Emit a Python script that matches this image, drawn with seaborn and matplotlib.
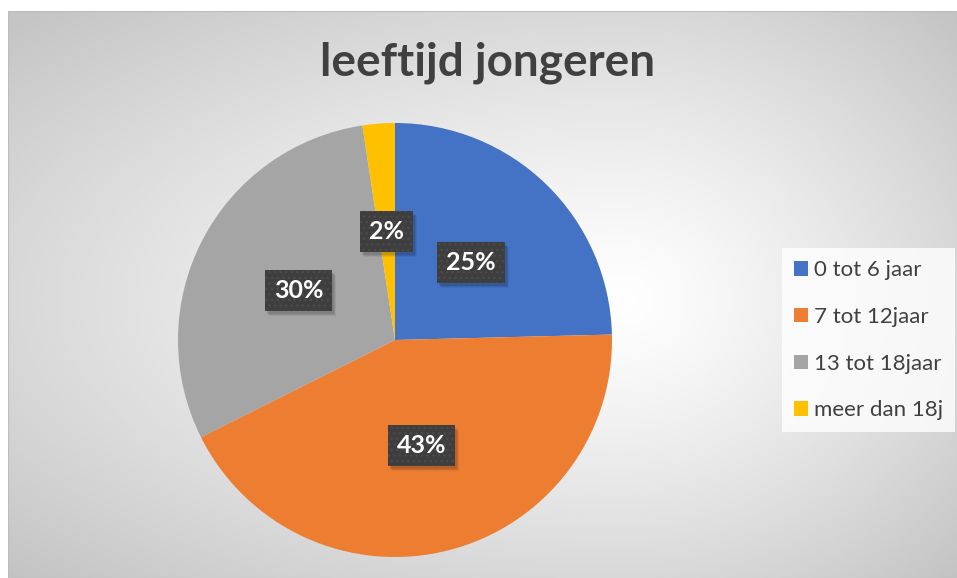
import numpy as np
import matplotlib
matplotlib.use("Agg")
import matplotlib.pyplot as plt
import matplotlib.transforms as mtransforms
from matplotlib.patches import Patch, Rectangle
import seaborn as sns

# ---- data ----
categories = ["0 tot 6 jaar", "7 tot 12jaar", "13 tot 18jaar", "meer dan 18j"]
values = [24.6, 43.0, 30.0, 2.4]
title = "leeftijd jongeren"

sns.set_theme(style="white")
plt.rcParams["font.family"] = ["Lato", "DejaVu Sans"]
colors = sns.color_palette(["#4472C4", "#ED7D31", "#A5A5A5", "#FFC000"])

W, H = 957, 578
fig = plt.figure(figsize=(W / 100, H / 100), dpi=100)
fig.patch.set_facecolor("white")

# ---- gradient chart-area background ----
x0, y0top = 8, 11
bg = fig.add_axes([x0 / W, 0, (W - x0) / W, (H - y0top) / H], zorder=0)
gw, gh = W - x0, H - y0top
xx, yy = np.meshgrid(np.arange(gw), np.arange(gh))
cx, cy = 620 - x0, 300 - y0top
dx = np.where(xx < cx, (xx - cx) / cx, (xx - cx) / (gw - cx))
dy = np.where(yy < cy, (yy - cy) / cy, (yy - cy) / (gh - cy))
t = np.clip(np.sqrt(dx ** 2 + dy ** 2) / np.sqrt(2), 0, 1)
val = (255 - 60 * t ** 1.25) / 255.0
img = np.dstack([val, val, val])
bg.imshow(img, aspect="auto", origin="upper", extent=(0, 1, 0, 1))
bg.set_xlim(0, 1)
bg.set_ylim(0, 1)
bg.axis("off")
bg.add_patch(Rectangle((0, 0), 1, 1, transform=bg.transAxes, fill=False,
                       edgecolor="#bdbdbd", linewidth=0.8))

# ---- pie ----
pcx, pcy, r = 395, 340, 217
ax = fig.add_axes([(pcx - r) / W, (H - pcy - r) / H, 2 * r / W, 2 * r / H], zorder=2)
wedges, _, autotexts = ax.pie(values, colors=colors, startangle=90, counterclock=False,
                              autopct="%1.0f%%", pctdistance=0.5,
                              textprops=dict(color="white", fontsize=18, fontweight="bold"),
                              wedgeprops=dict(linewidth=0))
ax.set_xlim(-1, 1)
ax.set_ylim(-1, 1)
ax.set_aspect("auto")
ax.axis("off")

for at in autotexts:
    at.set_bbox(dict(boxstyle="square,pad=0.36", facecolor="#3e3e3e",
                     edgecolor="#4b4b4b", linewidth=0, hatch="..."))
    at.set_zorder(5)

# ---- title ----
fig.text(488 / W, 1 - 63 / H, title, ha="center", va="center", fontsize=33,
         fontweight="bold", color="#404040", zorder=3)

# ---- legend ----
handles = [Patch(facecolor=c, edgecolor="none") for c in colors]
leg = fig.legend(handles, categories, loc="upper left",
                 bbox_to_anchor=(782 / W, 1 - 248 / H), bbox_transform=fig.transFigure,
                 fontsize=16, frameon=True, fancybox=False, labelspacing=1.2,
                 handlelength=0.62, handleheight=0.62, handletextpad=0.25,
                 borderpad=0.55, borderaxespad=0)
leg.get_frame().set_facecolor((1, 1, 1, 0.35))
leg.get_frame().set_linewidth(0)
for txt in leg.get_texts():
    txt.set_color("#404040")
leg.set_zorder(3)

# ---- soft shadows behind the label boxes (drawn inside the pie axes, below labels) ----
fig.canvas.draw()
renderer = fig.canvas.get_renderer()
ident = mtransforms.IdentityTransform()
for at in autotexts:
    bb = at.get_bbox_patch().get_window_extent(renderer)
    for k, a in [(5, 0.06), (4, 0.08), (3, 0.10)]:
        ax.add_artist(Rectangle((bb.x0 + k - 1, bb.y0 - k), bb.width, bb.height,
                                transform=ident, facecolor="black", alpha=a,
                                linewidth=0, zorder=4, clip_on=False))

fig.savefig("out.png", dpi=100)
